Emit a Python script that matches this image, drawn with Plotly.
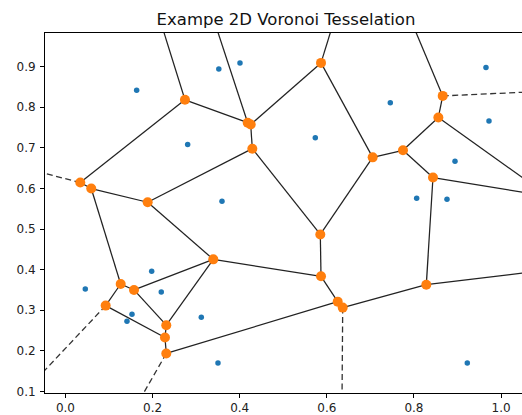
import plotly.graph_objects as go

# Input points (Voronoi sites)
pts_x = [0.1634, 0.3520, 0.4006, 0.2805, 0.3593, 0.5735, 0.7457, 0.9653, 0.9722, 0.8942,
         0.8062, 0.8758, 0.0455, 0.1979, 0.2199, 0.1527, 0.1412, 0.3118, 0.3501, 0.9224]
pts_y = [0.8420, 0.8946, 0.9090, 0.7080, 0.5686, 0.7250, 0.8110, 0.8978, 0.7659, 0.6668,
         0.5759, 0.5735, 0.3523, 0.3958, 0.3450, 0.2902, 0.2730, 0.2828, 0.1698, 0.1698]

# Voronoi vertices (last ones lie outside the visible area)
vert_x = [0.2743, 0.4183, 0.4252, 0.4289, 0.0340, 0.0592, 0.1887, 0.5866, 0.8660, 0.8560,
          0.7748, 0.7052, 0.8437, 0.3393, 0.1267, 0.1573, 0.0923, 0.2314, 0.2284, 0.2314,
          0.5850, 0.5866, 0.6249, 0.6364, 0.8283,
          0.207, 0.330, 0.627, 0.779, 1.110, 1.100]
vert_y = [0.8184, 0.7620, 0.7577, 0.6980, 0.6145, 0.5998, 0.5660, 0.9093, 0.8280, 0.7750,
          0.6939, 0.6766, 0.6268, 0.4253, 0.3646, 0.3499, 0.3113, 0.2631, 0.2327, 0.1934,
          0.4867, 0.3835, 0.3211, 0.3064, 0.3629,
          1.050, 1.050, 1.050, 1.050, 0.580, 0.398]

# Finite ridges (pairs of vertex indices)
edge_a = [0, 0, 0, 1, 1, 2, 2, 3, 3, 4, 5, 5, 6, 13, 13, 13, 14, 14, 15, 16, 17, 18, 19,
          21, 21, 22, 23, 20, 11, 11, 7, 10, 10, 9, 9, 8, 12, 12, 24]
edge_b = [25, 4, 1, 26, 2, 7, 3, 6, 20, 5, 6, 14, 13, 15, 17, 21, 15, 16, 17, 18, 18, 19, 22,
          20, 22, 23, 24, 11, 7, 10, 27, 9, 12, 8, 29, 28, 24, 29, 30]

# Infinite ridges: start vertex index and far point
inf_start = [4, 16, 19, 23, 8]
inf_far_x = [-0.851, -0.513, -0.201, 0.630, 1.783]
inf_far_y = [0.859, -0.379, -0.617, -0.612, 0.873]

x_ticks = [0.0, 0.2, 0.4, 0.6, 0.8, 1.0]
y_ticks = [0.1, 0.2, 0.3, 0.4, 0.5, 0.6, 0.7, 0.8, 0.9]

ex, ey = [], []
for a, b in zip(edge_a, edge_b):
    ex += [vert_x[a], vert_x[b], None]
    ey += [vert_y[a], vert_y[b], None]

dx, dy = [], []
for s, fx, fy in zip(inf_start, inf_far_x, inf_far_y):
    dx += [vert_x[s], fx, None]
    dy += [vert_y[s], fy, None]

fig = go.Figure()
fig.add_trace(go.Scatter(x=ex, y=ey, mode="lines",
                         line=dict(color="#222222", width=1.25), hoverinfo="skip"))
fig.add_trace(go.Scatter(x=dx, y=dy, mode="lines",
                         line=dict(color="#333333", width=1.3, dash="6px,3.5px"), hoverinfo="skip"))
fig.add_trace(go.Scatter(x=pts_x, y=pts_y, mode="markers",
                         marker=dict(color="#1f77b4", size=5.5, line=dict(width=0))))
fig.add_trace(go.Scatter(x=vert_x, y=vert_y, mode="markers",
                         marker=dict(color="#ff7f0e", size=10, line=dict(width=0))))

axis_font = dict(family="DejaVu Sans", size=12, color="#222222")
fig.update_layout(
    width=522, height=415,
    margin=dict(l=45, r=0, t=33, b=22),
    paper_bgcolor="white", plot_bgcolor="white",
    showlegend=False,
    title=dict(text="Exampe 2D Voronoi Tesselation",
               font=dict(family="DejaVu Sans", size=16.5, color="#111111"),
               x=286 / 522, xref="container", xanchor="center",
               y=1 - 19 / 415, yref="container", yanchor="middle"),
    xaxis=dict(range=[-0.047, 1.048], tickvals=x_ticks, tickformat=".1f",
               showgrid=False, zeroline=False, showline=True, mirror=True,
               linecolor="black", linewidth=1, ticks="outside", ticklen=4,
               tickwidth=1, tickcolor="black", tickfont=axis_font),
    yaxis=dict(range=[0.096, 0.983], tickvals=y_ticks, tickformat=".1f",
               showgrid=False, zeroline=False, showline=True, mirror=False,
               linecolor="black", linewidth=1, ticks="outside", ticklen=4,
               tickwidth=1, tickcolor="black", tickfont=axis_font,
               ticklabelstandoff=2),
)

fig.write_html("out.html")
